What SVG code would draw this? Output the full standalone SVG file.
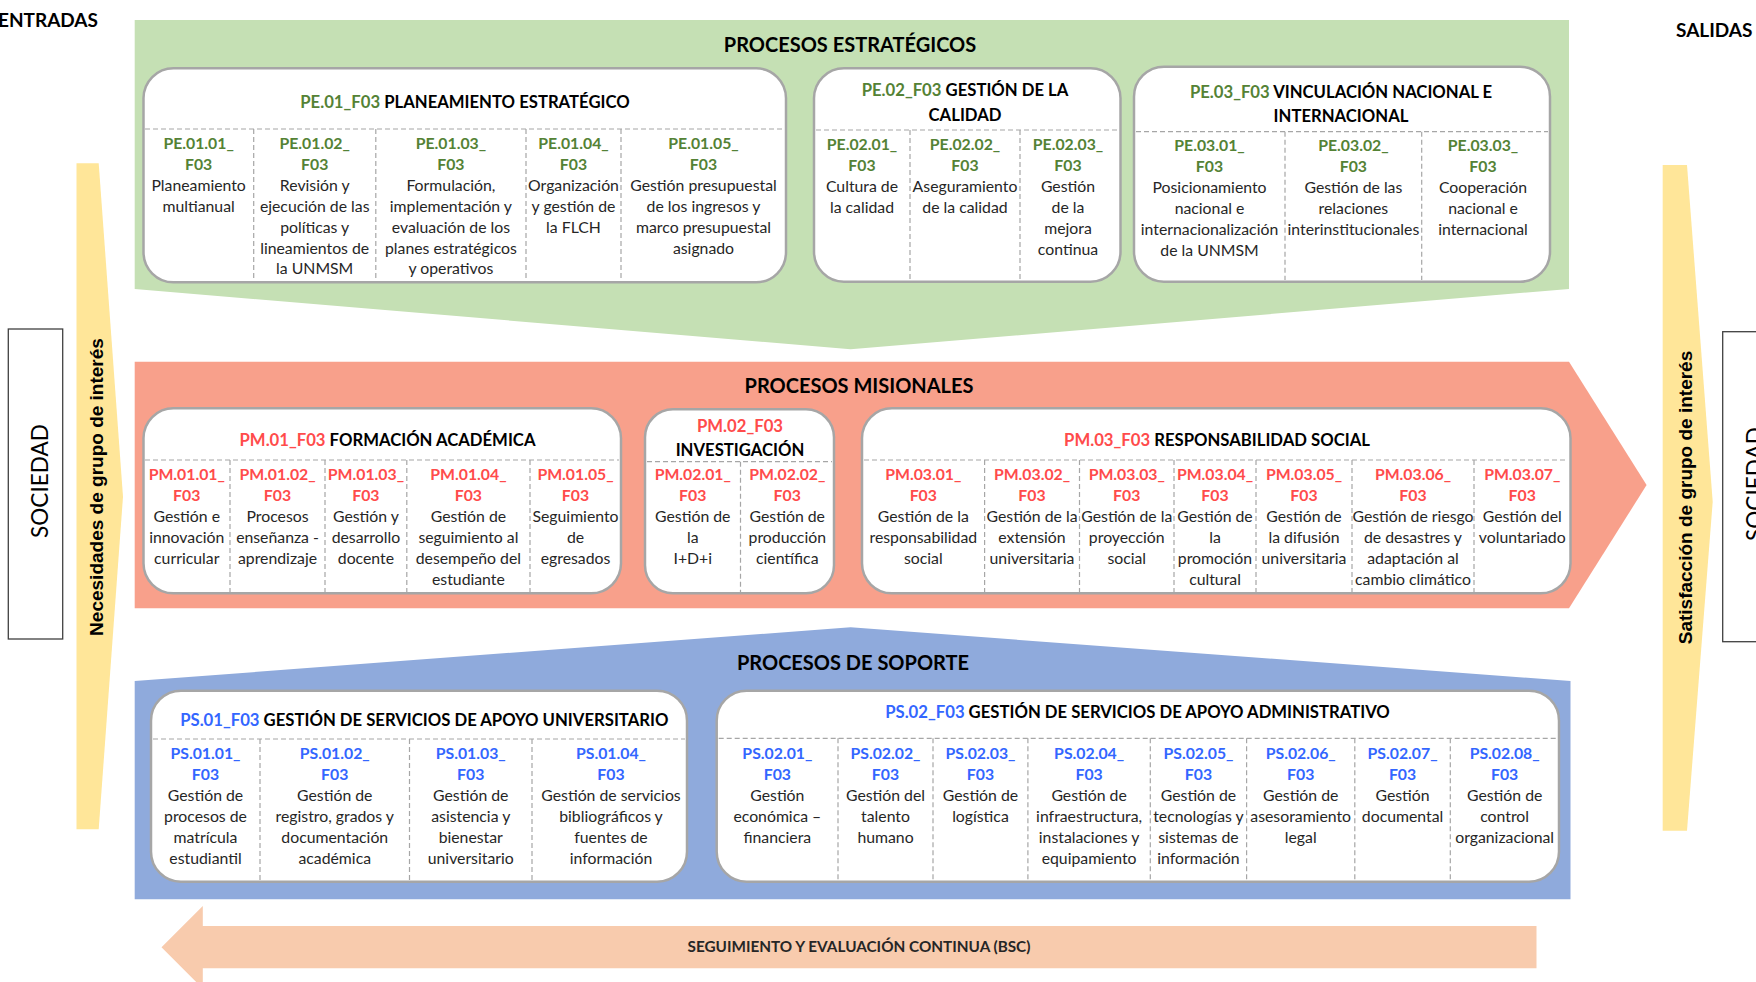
<svg xmlns="http://www.w3.org/2000/svg" width="1756" height="982" viewBox="0 0 1756 982">
  <style>
    .band-pe { fill: #C5E0B4; }
    .band-pm { fill: #F8A08B; }
    .band-ps { fill: #8FAADC; }
    .flow-in { fill: #FFE699; }
    .flow-bsc { fill: #F8CBAD; }
    .card { fill: #FFFFFF; stroke: #A6A6A6; stroke-width: 2.5; }
    .side { fill: #FFFFFF; stroke: #404040; stroke-width: 1.3; }
    .sep { stroke: #A6A6A6; stroke-width: 1.2; stroke-dasharray: 5 3; fill: none; }
    text { font-family: Lato, "Noto Sans", "Liberation Sans", sans-serif; }
    .head { font-size: 20px; font-weight: bold; fill: #000000; text-anchor: middle; }
    .io { font-size: 19px; font-weight: bold; fill: #000000; }
    .title { font-size: 16.7px; font-weight: bold; fill: #000000; text-anchor: middle; }
    .item { font-size: 15.8px; fill: #262626; text-anchor: middle; }
    .code { font-weight: bold; }
    .pe { fill: #548235; }
    .pm { fill: #FF4B4B; }
    .ps { fill: #3366FF; }
    .vert { font-family: "Liberation Sans", Arial, sans-serif; font-size: 19px; font-weight: bold; fill: #000000; text-anchor: middle; }
    .soc { font-size: 22.6px; fill: #000000; text-anchor: middle; }
    .bsc { font-size: 15.3px; font-weight: bold; fill: #262626; text-anchor: middle; }
  </style>

  <!-- inputs / outputs labels -->
  <text class="io" x="98" y="27" text-anchor="end">ENTRADAS</text>
  <text class="io" x="1676" y="37">SALIDAS</text>

  <!-- society boxes -->
  <g id="sociedad-entrada">
    <rect class="side" x="8.3" y="329" width="54.4" height="310"/>
    <text class="soc" transform="translate(48.3,481) rotate(-90)">SOCIEDAD</text>
  </g>
  <g id="sociedad-salida">
    <rect class="side" x="1722.7" y="331.7" width="54.4" height="310"/>
    <text class="soc" transform="translate(1762.6,484) rotate(-90)">SOCIEDAD</text>
  </g>

  <!-- flows -->
  <g id="flujos">
    <g id="necesidades">
      <polygon class="flow-in" points="76.5,163.3 98.7,163.3 123,496.7 98.7,829.3 76.5,829.3"/>
      <text class="vert" transform="translate(102.6,487) rotate(-90)">Necesidades de grupo de interés</text>
    </g>
    <g id="satisfaccion">
      <polygon class="flow-in" points="1662.7,165 1687,165 1712.7,501.7 1687,830.7 1662.7,830.7"/>
      <text class="vert" transform="translate(1691.7,497.5) rotate(-90)">Satisfacción de grupo de interés</text>
    </g>
    <g id="seguimiento">
      <polygon class="flow-bsc" points="161.5,947.3 202.8,906 202.8,926 1536.5,926 1536.5,968.3 202.8,968.3 202.8,988.6"/>
      <text class="bsc" x="859" y="952">SEGUIMIENTO Y EVALUACIÓN CONTINUA (BSC)</text>
    </g>
  </g>

  <!-- ===== strategic processes ===== -->
  <g id="procesos-estrategicos">
    <polygon class="band-pe" points="134.7,20 1569,20 1569,289 850.6,349.3 134.7,289"/>
    <text class="head" x="850" y="51.5">PROCESOS ESTRATÉGICOS</text>
  </g>

  <g id="PE01">
    <rect class="card" x="143.5" y="68.3" width="642.5" height="214" rx="30"/>
    <text class="title" x="465" y="107.5"><tspan class="pe">PE.01_F03</tspan> PLANEAMIENTO ESTRATÉGICO</text>
    <path class="sep" d="M145,129 H784 M253.7,129 V281 M375.8,129 V281 M526,129 V281 M621,129 V281"/>
    <text class="item" y="149">
      <tspan x="198.6" class="code pe">PE.01.01_</tspan><tspan x="198.6" dy="20.9" class="code pe">F03</tspan><tspan x="198.6" dy="20.9">Planeamiento</tspan><tspan x="198.6" dy="20.9">multianual</tspan>
    </text>
    <text class="item" y="149">
      <tspan x="314.7" class="code pe">PE.01.02_</tspan><tspan x="314.7" dy="20.9" class="code pe">F03</tspan><tspan x="314.7" dy="20.9">Revisión y</tspan><tspan x="314.7" dy="20.9">ejecución de las</tspan><tspan x="314.7" dy="20.9">políticas y</tspan><tspan x="314.7" dy="20.9">lineamientos de</tspan><tspan x="314.7" dy="20.9">la UNMSM</tspan>
    </text>
    <text class="item" y="149">
      <tspan x="450.9" class="code pe">PE.01.03_</tspan><tspan x="450.9" dy="20.9" class="code pe">F03</tspan><tspan x="450.9" dy="20.9">Formulación,</tspan><tspan x="450.9" dy="20.9">implementación y</tspan><tspan x="450.9" dy="20.9">evaluación de los</tspan><tspan x="450.9" dy="20.9">planes estratégicos</tspan><tspan x="450.9" dy="20.9">y operativos</tspan>
    </text>
    <text class="item" y="149">
      <tspan x="573.5" class="code pe">PE.01.04_</tspan><tspan x="573.5" dy="20.9" class="code pe">F03</tspan><tspan x="573.5" dy="20.9">Organización</tspan><tspan x="573.5" dy="20.9">y gestión de</tspan><tspan x="573.5" dy="20.9">la FLCH</tspan>
    </text>
    <text class="item" y="149">
      <tspan x="703.5" class="code pe">PE.01.05_</tspan><tspan x="703.5" dy="20.9" class="code pe">F03</tspan><tspan x="703.5" dy="20.9">Gestión presupuestal</tspan><tspan x="703.5" dy="20.9">de los ingresos y</tspan><tspan x="703.5" dy="20.9">marco presupuestal</tspan><tspan x="703.5" dy="20.9">asignado</tspan>
    </text>
  </g>

  <g id="PE02">
    <rect class="card" x="814" y="68.3" width="306.5" height="213.4" rx="30"/>
    <text class="title" x="965" y="96"><tspan class="pe">PE.02_F03</tspan>  GESTIÓN DE LA</text>
    <text class="title" x="965" y="120.5">CALIDAD</text>
    <path class="sep" d="M816,130 H1118 M910,130 V280 M1020,130 V280"/>
    <text class="item" y="150">
      <tspan x="862" class="code pe">PE.02.01_</tspan><tspan x="862" dy="20.9" class="code pe">F03</tspan><tspan x="862" dy="20.9">Cultura de</tspan><tspan x="862" dy="20.9">la calidad</tspan>
    </text>
    <text class="item" y="150">
      <tspan x="965" class="code pe">PE.02.02_</tspan><tspan x="965" dy="20.9" class="code pe">F03</tspan><tspan x="965" dy="20.9">Aseguramiento</tspan><tspan x="965" dy="20.9">de la calidad</tspan>
    </text>
    <text class="item" y="150">
      <tspan x="1068" class="code pe">PE.02.03_</tspan><tspan x="1068" dy="20.9" class="code pe">F03</tspan><tspan x="1068" dy="20.9">Gestión</tspan><tspan x="1068" dy="20.9">de la</tspan><tspan x="1068" dy="20.9">mejora</tspan><tspan x="1068" dy="20.9">continua</tspan>
    </text>
  </g>

  <g id="PE03">
    <rect class="card" x="1134" y="66.7" width="416" height="215" rx="30"/>
    <text class="title" x="1341" y="98"><tspan class="pe">PE.03_F03</tspan> VINCULACIÓN NACIONAL E</text>
    <text class="title" x="1341" y="122">INTERNACIONAL</text>
    <path class="sep" d="M1136,131.7 H1548 M1285,131.7 V280 M1421.7,131.7 V280"/>
    <text class="item" y="151">
      <tspan x="1209.5" class="code pe">PE.03.01_</tspan><tspan x="1209.5" dy="20.9" class="code pe">F03</tspan><tspan x="1209.5" dy="20.9">Posicionamiento</tspan><tspan x="1209.5" dy="20.9">nacional e</tspan><tspan x="1209.5" dy="20.9">internacionalización</tspan><tspan x="1209.5" dy="20.9">de la UNMSM</tspan>
    </text>
    <text class="item" y="151">
      <tspan x="1353.4" class="code pe">PE.03.02_</tspan><tspan x="1353.4" dy="20.9" class="code pe">F03</tspan><tspan x="1353.4" dy="20.9">Gestión de las</tspan><tspan x="1353.4" dy="20.9">relaciones</tspan><tspan x="1353.4" dy="20.9">interinstitucionales</tspan>
    </text>
    <text class="item" y="151">
      <tspan x="1483" class="code pe">PE.03.03_</tspan><tspan x="1483" dy="20.9" class="code pe">F03</tspan><tspan x="1483" dy="20.9">Cooperación</tspan><tspan x="1483" dy="20.9">nacional e</tspan><tspan x="1483" dy="20.9">internacional</tspan>
    </text>
  </g>

  <!-- ===== mission processes ===== -->
  <g id="procesos-misionales">
    <polygon class="band-pm" points="134.7,361.7 1569,361.7 1646.6,485 1569,608.3 134.7,608.3"/>
    <text class="head" x="859" y="392.5">PROCESOS MISIONALES</text>
  </g>

  <g id="PM01">
    <rect class="card" x="143.5" y="408.3" width="477.5" height="185" rx="30"/>
    <text class="title" x="387.5" y="446"><tspan class="pm">PM.01_F03</tspan> FORMACIÓN ACADÉMICA</text>
    <path class="sep" d="M145,460 H619 M230,460 V592 M325,460 V592 M406.8,460 V592 M530,460 V592"/>
    <text class="item" y="479.5">
      <tspan x="186.75" class="code pm">PM.01.01_</tspan><tspan x="186.75" dy="21" class="code pm">F03</tspan><tspan x="186.75" dy="21">Gestión e</tspan><tspan x="186.75" dy="21">innovación</tspan><tspan x="186.75" dy="21">curricular</tspan>
    </text>
    <text class="item" y="479.5">
      <tspan x="277.5" class="code pm">PM.01.02_</tspan><tspan x="277.5" dy="21" class="code pm">F03</tspan><tspan x="277.5" dy="21">Procesos</tspan><tspan x="277.5" dy="21">enseñanza -</tspan><tspan x="277.5" dy="21">aprendizaje</tspan>
    </text>
    <text class="item" y="479.5">
      <tspan x="365.9" class="code pm">PM.01.03_</tspan><tspan x="365.9" dy="21" class="code pm">F03</tspan><tspan x="365.9" dy="21">Gestión y</tspan><tspan x="365.9" dy="21">desarrollo</tspan><tspan x="365.9" dy="21">docente</tspan>
    </text>
    <text class="item" y="479.5">
      <tspan x="468.4" class="code pm">PM.01.04_</tspan><tspan x="468.4" dy="21" class="code pm">F03</tspan><tspan x="468.4" dy="21">Gestión de</tspan><tspan x="468.4" dy="21">seguimiento al</tspan><tspan x="468.4" dy="21">desempeño del</tspan><tspan x="468.4" dy="21">estudiante</tspan>
    </text>
    <text class="item" y="479.5">
      <tspan x="575.5" class="code pm">PM.01.05_</tspan><tspan x="575.5" dy="21" class="code pm">F03</tspan><tspan x="575.5" dy="21">Seguimiento</tspan><tspan x="575.5" dy="21">de</tspan><tspan x="575.5" dy="21">egresados</tspan>
    </text>
  </g>

  <g id="PM02">
    <rect class="card" x="645" y="409.3" width="189" height="184" rx="28"/>
    <text class="title" x="740" y="432"><tspan class="pm">PM.02_F03</tspan></text>
    <text class="title" x="740" y="455.5">INVESTIGACIÓN</text>
    <path class="sep" d="M647,461.7 H832 M740.5,461.7 V592"/>
    <text class="item" y="480">
      <tspan x="692.75" class="code pm">PM.02.01_</tspan><tspan x="692.75" dy="21" class="code pm">F03</tspan><tspan x="692.75" dy="21">Gestión de</tspan><tspan x="692.75" dy="21">la</tspan><tspan x="692.75" dy="21">I+D+i</tspan>
    </text>
    <text class="item" y="480">
      <tspan x="787.25" class="code pm">PM.02.02_</tspan><tspan x="787.25" dy="21" class="code pm">F03</tspan><tspan x="787.25" dy="21">Gestión de</tspan><tspan x="787.25" dy="21">producción</tspan><tspan x="787.25" dy="21">científica</tspan>
    </text>
  </g>

  <g id="PM03">
    <rect class="card" x="862" y="408.3" width="708.5" height="185" rx="30"/>
    <text class="title" x="1217" y="446"><tspan class="pm">PM.03_F03</tspan> RESPONSABILIDAD SOCIAL</text>
    <path class="sep" d="M864,460 H1568 M984.6,460 V592 M1079.5,460 V592 M1174,460 V592 M1256,460 V592 M1352,460 V592 M1474,460 V592"/>
    <text class="item" y="479.5">
      <tspan x="923.3" class="code pm">PM.03.01_</tspan><tspan x="923.3" dy="21" class="code pm">F03</tspan><tspan x="923.3" dy="21">Gestión de la</tspan><tspan x="923.3" dy="21">responsabilidad</tspan><tspan x="923.3" dy="21">social</tspan>
    </text>
    <text class="item" y="479.5">
      <tspan x="1032" class="code pm">PM.03.02_</tspan><tspan x="1032" dy="21" class="code pm">F03</tspan><tspan x="1032" dy="21">Gestión de la</tspan><tspan x="1032" dy="21">extensión</tspan><tspan x="1032" dy="21">universitaria</tspan>
    </text>
    <text class="item" y="479.5">
      <tspan x="1126.75" class="code pm">PM.03.03_</tspan><tspan x="1126.75" dy="21" class="code pm">F03</tspan><tspan x="1126.75" dy="21">Gestión de la</tspan><tspan x="1126.75" dy="21">proyección</tspan><tspan x="1126.75" dy="21">social</tspan>
    </text>
    <text class="item" y="479.5">
      <tspan x="1215" class="code pm">PM.03.04_</tspan><tspan x="1215" dy="21" class="code pm">F03</tspan><tspan x="1215" dy="21">Gestión de</tspan><tspan x="1215" dy="21">la</tspan><tspan x="1215" dy="21">promoción</tspan><tspan x="1215" dy="21">cultural</tspan>
    </text>
    <text class="item" y="479.5">
      <tspan x="1304" class="code pm">PM.03.05_</tspan><tspan x="1304" dy="21" class="code pm">F03</tspan><tspan x="1304" dy="21">Gestión de</tspan><tspan x="1304" dy="21">la difusión</tspan><tspan x="1304" dy="21">universitaria</tspan>
    </text>
    <text class="item" y="479.5">
      <tspan x="1413" class="code pm">PM.03.06_</tspan><tspan x="1413" dy="21" class="code pm">F03</tspan><tspan x="1413" dy="21">Gestión de riesgo</tspan><tspan x="1413" dy="21">de desastres y</tspan><tspan x="1413" dy="21">adaptación al</tspan><tspan x="1413" dy="21">cambio climático</tspan>
    </text>
    <text class="item" y="479.5">
      <tspan x="1522.25" class="code pm">PM.03.07_</tspan><tspan x="1522.25" dy="21" class="code pm">F03</tspan><tspan x="1522.25" dy="21">Gestión del</tspan><tspan x="1522.25" dy="21">voluntariado</tspan>
    </text>
  </g>

  <!-- ===== support processes ===== -->
  <g id="procesos-soporte">
    <polygon class="band-ps" points="134.7,681 850.6,627.3 1570.5,681 1570.5,899.3 134.7,899.3"/>
    <text class="head" x="853" y="670">PROCESOS DE SOPORTE</text>
  </g>

  <g id="PS01">
    <rect class="card" x="151" y="690.7" width="536" height="191" rx="30"/>
    <text class="title" x="424.3" y="725.5"><tspan class="ps">PS.01_F03</tspan> GESTIÓN DE SERVICIOS DE APOYO UNIVERSITARIO</text>
    <path class="sep" d="M153,739 H685 M260,739 V880 M409.5,739 V880 M532,739 V880"/>
    <text class="item" y="758.5">
      <tspan x="205.5" class="code ps">PS.01.01_</tspan><tspan x="205.5" dy="21" class="code ps">F03</tspan><tspan x="205.5" dy="21">Gestión de</tspan><tspan x="205.5" dy="21">procesos de</tspan><tspan x="205.5" dy="21">matrícula</tspan><tspan x="205.5" dy="21">estudiantil</tspan>
    </text>
    <text class="item" y="758.5">
      <tspan x="334.75" class="code ps">PS.01.02_</tspan><tspan x="334.75" dy="21" class="code ps">F03</tspan><tspan x="334.75" dy="21">Gestión de</tspan><tspan x="334.75" dy="21">registro, grados y</tspan><tspan x="334.75" dy="21">documentación</tspan><tspan x="334.75" dy="21">académica</tspan>
    </text>
    <text class="item" y="758.5">
      <tspan x="470.75" class="code ps">PS.01.03_</tspan><tspan x="470.75" dy="21" class="code ps">F03</tspan><tspan x="470.75" dy="21">Gestión de</tspan><tspan x="470.75" dy="21">asistencia y</tspan><tspan x="470.75" dy="21">bienestar</tspan><tspan x="470.75" dy="21">universitario</tspan>
    </text>
    <text class="item" y="758.5">
      <tspan x="611" class="code ps">PS.01.04_</tspan><tspan x="611" dy="21" class="code ps">F03</tspan><tspan x="611" dy="21">Gestión de servicios</tspan><tspan x="611" dy="21">bibliográficos y</tspan><tspan x="611" dy="21">fuentes de</tspan><tspan x="611" dy="21">información</tspan>
    </text>
  </g>

  <g id="PS02">
    <rect class="card" x="716.7" y="690.7" width="842.3" height="191" rx="30"/>
    <text class="title" x="1137.5" y="718"><tspan class="ps">PS.02_F03</tspan> GESTIÓN DE SERVICIOS DE APOYO ADMINISTRATIVO</text>
    <path class="sep" d="M718.7,738.3 H1557 M838,738.3 V880 M933,738.3 V880 M1027.9,738.3 V880 M1150.3,738.3 V880 M1246.6,738.3 V880 M1354.8,738.3 V880 M1450.3,738.3 V880"/>
    <text class="item" y="758.5">
      <tspan x="777.35" class="code ps">PS.02.01_</tspan><tspan x="777.35" dy="21" class="code ps">F03</tspan><tspan x="777.35" dy="21">Gestión</tspan><tspan x="777.35" dy="21">económica –</tspan><tspan x="777.35" dy="21">financiera</tspan>
    </text>
    <text class="item" y="758.5">
      <tspan x="885.5" class="code ps">PS.02.02_</tspan><tspan x="885.5" dy="21" class="code ps">F03</tspan><tspan x="885.5" dy="21">Gestión del</tspan><tspan x="885.5" dy="21">talento</tspan><tspan x="885.5" dy="21">humano</tspan>
    </text>
    <text class="item" y="758.5">
      <tspan x="980.45" class="code ps">PS.02.03_</tspan><tspan x="980.45" dy="21" class="code ps">F03</tspan><tspan x="980.45" dy="21">Gestión de</tspan><tspan x="980.45" dy="21">logística</tspan>
    </text>
    <text class="item" y="758.5">
      <tspan x="1089.1" class="code ps">PS.02.04_</tspan><tspan x="1089.1" dy="21" class="code ps">F03</tspan><tspan x="1089.1" dy="21">Gestión de</tspan><tspan x="1089.1" dy="21">infraestructura,</tspan><tspan x="1089.1" dy="21">instalaciones y</tspan><tspan x="1089.1" dy="21">equipamiento</tspan>
    </text>
    <text class="item" y="758.5">
      <tspan x="1198.45" class="code ps">PS.02.05_</tspan><tspan x="1198.45" dy="21" class="code ps">F03</tspan><tspan x="1198.45" dy="21">Gestión de</tspan><tspan x="1198.45" dy="21">tecnologías y</tspan><tspan x="1198.45" dy="21">sistemas de</tspan><tspan x="1198.45" dy="21">información</tspan>
    </text>
    <text class="item" y="758.5">
      <tspan x="1300.7" class="code ps">PS.02.06_</tspan><tspan x="1300.7" dy="21" class="code ps">F03</tspan><tspan x="1300.7" dy="21">Gestión de</tspan><tspan x="1300.7" dy="21">asesoramiento</tspan><tspan x="1300.7" dy="21">legal</tspan>
    </text>
    <text class="item" y="758.5">
      <tspan x="1402.55" class="code ps">PS.02.07_</tspan><tspan x="1402.55" dy="21" class="code ps">F03</tspan><tspan x="1402.55" dy="21">Gestión</tspan><tspan x="1402.55" dy="21">documental</tspan>
    </text>
    <text class="item" y="758.5">
      <tspan x="1504.65" class="code ps">PS.02.08_</tspan><tspan x="1504.65" dy="21" class="code ps">F03</tspan><tspan x="1504.65" dy="21">Gestión de</tspan><tspan x="1504.65" dy="21">control</tspan><tspan x="1504.65" dy="21">organizacional</tspan>
    </text>
  </g>
</svg>
